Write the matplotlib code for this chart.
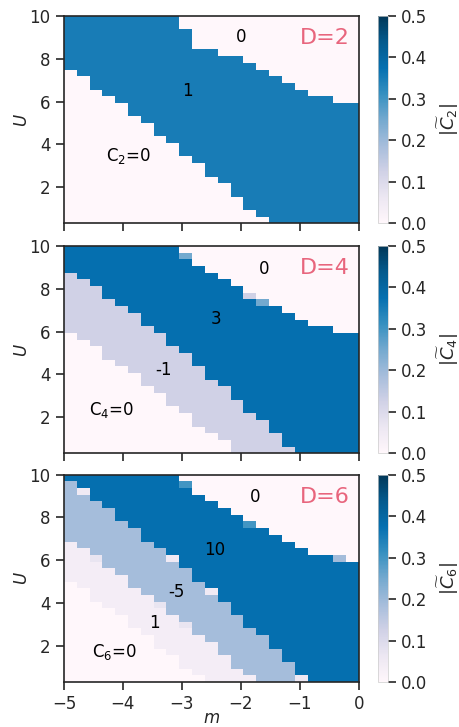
import numpy as np
import matplotlib.pyplot as plt

# grid of the phase diagram (cell edges)
m_edges = np.linspace(-5, 0, 24)
U_edges = np.linspace(0.3125, 10, 32)

# D=2: first row of the C=1 band, first row of the C=0 region above it (per column)
d2_low = [23, 22, 20, 19, 18, 16, 15, 13, 12, 10, 9, 7, 6, 4, 2, 1, 0, 0, 0, 0, 0, 0, 0]
d2_high = [31, 31, 31, 31, 31, 31, 31, 31, 31, 29, 26, 26, 25, 25, 24, 23, 22, 21, 20, 19, 19, 18, 18]
d2_vals = [0.35]
d2_odd = []

# D=4: bands -1 and 3
d4_mid = [18, 17, 16, 14, 13, 12, 10, 9, 7, 6, 4, 3, 2, 0, 0, 0, 0, 0, 0, 0, 0, 0, 0]
d4_low = [27, 26, 25, 23, 22, 21, 19, 18, 16, 15, 13, 11, 10, 8, 6, 5, 3, 1, 0, 0, 0, 0, 0]
d4_high = [31, 31, 31, 31, 31, 31, 31, 31, 31, 30, 28, 27, 26, 25, 24, 23, 22, 21, 20, 19, 19, 18, 18]
d4_vals = [0.125, 0.375]
d4_odd = [(9, 29, 0.25), (14, 23, 0.125), (15, 22, 0.25)]

# D=6: bands 1, -5 and 10
d6_w1 = [15, 14, 12, 11, 10, 8, 7, 5, 4, 2, 1, 0, 0, 0, 0, 0, 0, 0, 0, 0, 0, 0, 0]
d6_m5 = [21, 20, 19, 17, 16, 14, 13, 12, 10, 9, 7, 6, 4, 2, 1, 0, 0, 0, 0, 0, 0, 0, 0]
d6_low = [30, 29, 27, 26, 24, 23, 21, 20, 19, 17, 15, 14, 12, 10, 8, 7, 5, 3, 1, 0, 0, 0, 0]
d6_high = [31, 31, 31, 31, 31, 31, 31, 31, 31, 30, 28, 27, 26, 25, 24, 23, 22, 21, 20, 19, 19, 19, 18]
d6_vals = [0.0375, 0.1875, 0.375]
d6_odd = [(1, 28, 0.05), (2, 18, 0.07), (7, 11, 0.07), (8, 18, 0.05), (9, 8, 0.07),
          (11, 13, 0.05), (9, 29, 0.3), (14, 23, 0.3), (18, 0, 0.06), (21, 18, 0.19)]

labels2 = [("0", -2.0, 9.0), ("1", -2.9, 6.5), ("C$_2$=0", -3.9, 3.45)]
labels4 = [("0", -1.6, 8.9), ("3", -2.42, 6.6), ("-1", -3.32, 4.2), ("C$_4$=0", -4.2, 2.35)]
labels6 = [("0", -1.75, 8.95), ("10", -2.45, 6.5), ("-5", -3.1, 4.5), ("1", -3.47, 3.05),
           ("C$_6$=0", -4.15, 1.7)]


def build(bounds, vals, odd):
    z = np.zeros((len(U_edges) - 1, len(m_edges) - 1))
    for c in range(z.shape[1]):
        for i, v in enumerate(vals):
            z[bounds[i][c]:bounds[i + 1][c], c] = v
    for c, r, v in odd:
        z[r, c] = v
    return z


panels = [
    (build([d2_low, d2_high], d2_vals, d2_odd), labels2, "D=2", r"$|\widetilde{C}_2|$"),
    (build([d4_mid, d4_low, d4_high], d4_vals, d4_odd), labels4, "D=4", r"$|\widetilde{C}_4|$"),
    (build([d6_w1, d6_m5, d6_low, d6_high], d6_vals, d6_odd), labels6, "D=6", r"$|\widetilde{C}_6|$"),
]

plt.rcParams['font.size'] = 12
plt.rcParams['xtick.color'] = '.15'
plt.rcParams['ytick.color'] = '.15'
plt.rcParams['axes.labelcolor'] = '.15'

fig = plt.figure(figsize=(4.6, 7.27), dpi=100)
bottoms = [0.6928, 0.3765, 0.0619]
for k, (z, labels, title, cblabel) in enumerate(panels):
    ax = fig.add_axes([0.139, bottoms[k], 0.641, 0.2852])
    mesh = ax.pcolormesh(m_edges, U_edges, z, cmap='PuBu', vmin=0, vmax=0.5)
    ax.set_yticks([2, 4, 6, 8, 10])
    ax.set_xticks([-5, -4, -3, -2, -1, 0])
    ax.tick_params(length=6, width=1.2, labelsize=12)
    for s in ax.spines.values():
        s.set_linewidth(1.2)
        s.set_color('.15')
    ax.set_ylabel("$U$", fontsize=12, labelpad=-1)
    if k < 2:
        ax.set_xticklabels([])
    else:
        ax.set_xlabel("$m$", fontsize=12, labelpad=-3)
    for txt, x, y in labels:
        ax.text(x, y, txt, ha='center', va='center', fontsize=12, color='k')
    ax.text(-0.15, 8.95, title, ha='right', va='center', fontsize=16, color='#e8657d')

    cax = fig.add_axes([0.8217, bottoms[k], 0.0217, 0.2852])
    cb = fig.colorbar(mesh, cax=cax, ticks=[0, 0.1, 0.2, 0.3, 0.4, 0.5])
    cb.outline.set_linewidth(0.5)
    cb.outline.set_edgecolor('#cccccc')
    cax.tick_params(length=6, width=1.2, labelsize=12)
    cb.set_label(cblabel, fontsize=13, labelpad=6)

fig.savefig("out.png", dpi=100)
